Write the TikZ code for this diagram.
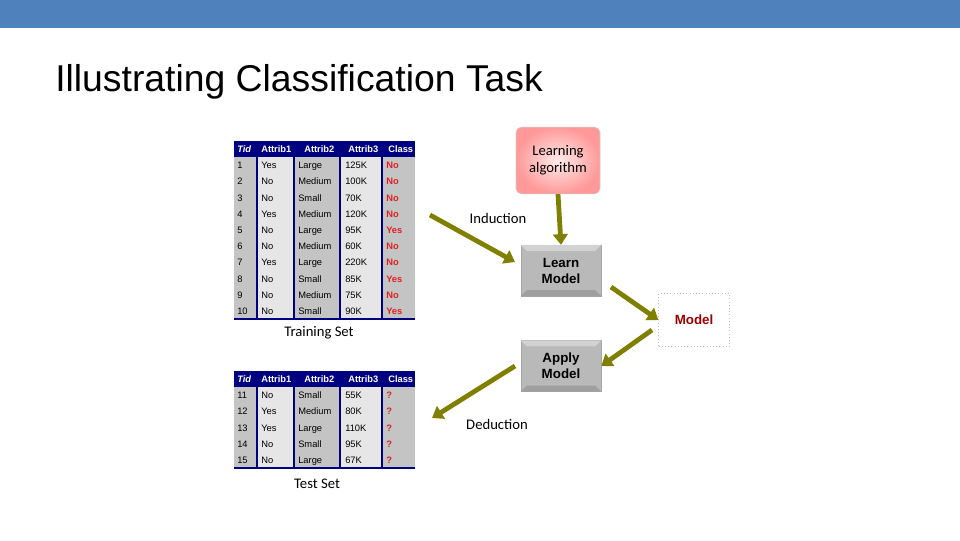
\documentclass[tikz,border=0pt]{standalone}
\usepackage{fontspec}
\setmainfont{Liberation Sans}
\newfontfamily\carlitof{Carlito}
\usetikzlibrary{arrows.meta}
\definecolor{bar}{HTML}{4F81BD}
\definecolor{navy}{HTML}{000080}
\definecolor{olive}{HTML}{7F7F00}
\definecolor{cg}{HTML}{C4C4C4}
\definecolor{cl}{HTML}{E6E6E6}
\definecolor{redt}{HTML}{E02020}
\tikzset{
  cell/.style={anchor=base west,font=\fontsize{7}{8}\selectfont,inner sep=0pt},
  hd/.style={anchor=base west,font=\bfseries\fontsize{7}{8}\selectfont,text=white,inner sep=0pt},
  arr/.style={olive,line width=3.6pt,-{Triangle[width=11pt,length=8pt]}},
  lbl/.style={font=\carlitof\fontsize{11}{13}\selectfont},
  btn/.style={draw=gray!70,fill=gray!55,line width=0.5pt}
}
\newcommand{\drawtab}[4]{%
\begin{scope}[yshift=#1*-0.75pt]
\fill[cg] (234,0) rectangle (257,#2);
\fill[cl] (257,0) rectangle (294,#2);
\fill[cg] (294,0) rectangle (340,#2);
\fill[cl] (340,0) rectangle (382,#2);
\fill[cg] (382,0) rectangle (415,#2);
\fill[navy] (234,0) rectangle (415,16);
\foreach \xx in {257,294,340,382} \draw[navy,line width=0.9pt] (\xx,0)--(\xx,#2);
\draw[navy,line width=1pt] (234,#2)--(415,#2);
\node[hd] at (237,11.5) {\itshape Tid};
\node[hd] at (261,11.5) {Attrib1};
\node[hd] at (304,11.5) {Attrib2};
\node[hd] at (348,11.5) {Attrib3};
\node[hd] at (388,11.5) {Class};
\foreach \t/\a/\b/\c/\d [count=\i] in {#4}{
  \node[cell] at (237,{16+16.2*(\i-0.5)+3.5}) {\t};
  \node[cell] at (261,{16+16.2*(\i-0.5)+3.5}) {\a};
  \node[cell] at (298,{16+16.2*(\i-0.5)+3.5}) {\b};
  \node[cell] at (345,{16+16.2*(\i-0.5)+3.5}) {\c};
  \node[cell,text=redt,font=\bfseries\fontsize{7}{8}\selectfont] at (386,{16+16.2*(\i-0.5)+3.5}) {\d};
}
\end{scope}}
\begin{document}
\begin{tikzpicture}[x=0.75pt,y=-0.75pt]
\useasboundingbox (0,0) rectangle (960,540);
\fill[bar] (0,0) rectangle (960,28);
\node[anchor=west,font=\fontsize{28}{32}\selectfont,inner sep=0pt] (title) at (55,82) {Illustrating Classification Task};
\drawtab{141}{178}{10}{1/Yes/Large/125K/No,2/No/Medium/100K/No,3/No/Small/70K/No,4/Yes/Medium/120K/No,5/No/Large/95K/Yes,6/No/Medium/60K/No,7/Yes/Large/220K/No,8/No/Small/85K/Yes,9/No/Medium/75K/No,10/No/Small/90K/Yes}
\drawtab{371}{97}{5}{11/No/Small/55K/?,12/Yes/Medium/80K/?,13/Yes/Large/110K/?,14/No/Small/95K/?,15/No/Large/67K/?}
\node[lbl] (train) at (319,333) {Training Set};
\node[lbl] (test) at (317,484) {Test Set};
\node[draw=gray!40,rounded corners=4pt,inner color=red!8,outer color=red!40,minimum width=63pt,minimum height=50pt,align=center,lbl] (alg) at (558,160.5) {Learning\\algorithm};
\node[btn,minimum width=60pt,minimum height=38pt] (learn) at (561,270.5) {};
\node[btn,minimum width=60pt,minimum height=38pt] (apply) at (561,366) {};
\foreach \n in {learn,apply}{
  \fill[gray!35] (\n.north west)--(\n.north east)--([shift={(-6,6)}]\n.north east)--([shift={(6,6)}]\n.north west)--cycle;
  \fill[gray!75] (\n.south west)--(\n.south east)--([shift={(-6,-6)}]\n.south east)--([shift={(6,-6)}]\n.south west)--cycle;
}
\node[align=center,font=\bfseries\fontsize{10}{12}\selectfont] (learnt) at (learn) {Learn\\Model};
\node[align=center,font=\bfseries\fontsize{10}{12}\selectfont] (applyt) at (apply) {Apply\\Model};
\node[draw=gray!50,dotted,minimum width=53pt,minimum height=40pt,text=red!60!black,font=\bfseries\fontsize{10}{12}\selectfont] (model) at (694,320) {Model};
\coordinate (ind) at (430,215);
\coordinate (ded) at (432,418);
\draw[arr] (alg.south) -- (learn.north);
\draw[arr] (ind) -- (515,262);
\draw[arr] (611,287) -- (model.west);
\draw[arr] (652,330) -- (apply.east);
\draw[arr] (515,366) -- (ded);
\node[lbl] (indl) at (498,218) {Induction};
\node[lbl] (dedl) at (497,424) {Deduction};
\end{tikzpicture}
\end{document}
